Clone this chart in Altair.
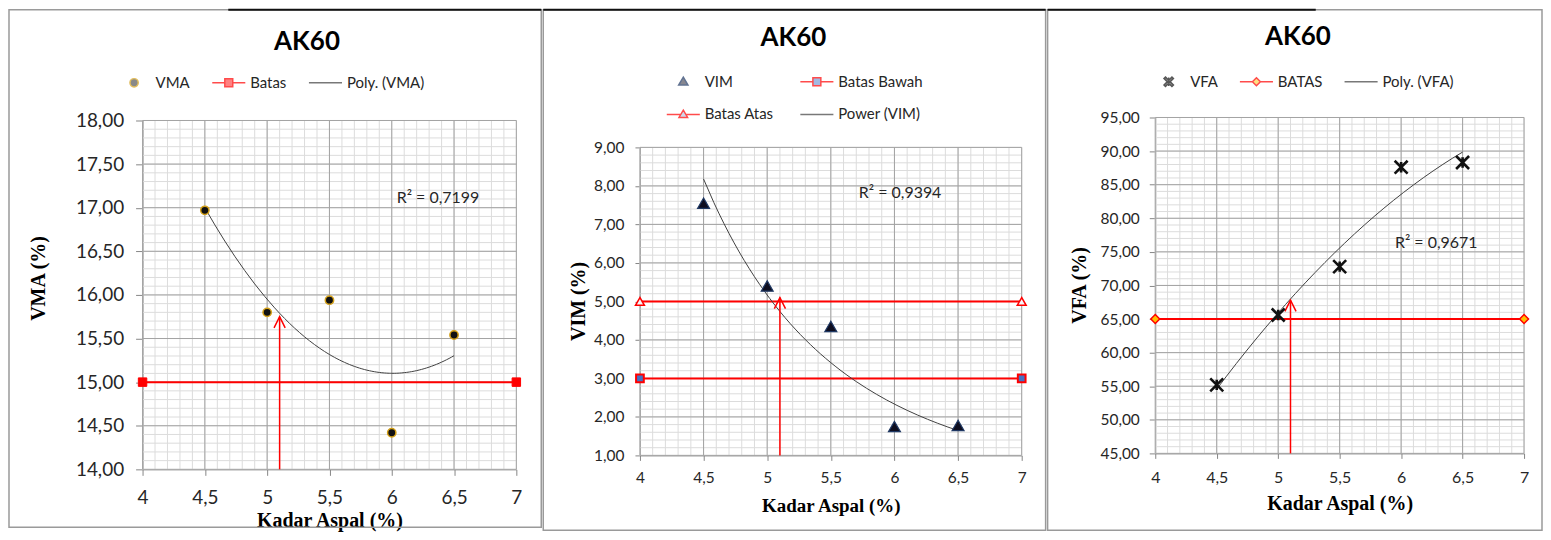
import altair as alt
import pandas as pd

# ------------------------------------------------------------------ data
kadar_aspal = [4.5, 5.0, 5.5, 6.0, 6.5]
vma = [16.97, 15.80, 15.94, 14.42, 15.54]
vim = [7.55, 5.40, 4.35, 1.75, 1.78]
vfa = [55.2, 65.6, 72.8, 87.6, 88.3]

batas_x = [4.0, 7.0]
vma_batas = [15.0, 15.0]
vim_batas_bawah = [3.0, 3.0]
vim_batas_atas = [5.0, 5.0]
vfa_batas = [65.0, 65.0]

arrow_x = [5.1, 5.1]
vma_arrow = [14.0, 15.75]
vim_arrow = [1.0, 5.1]
vfa_arrow = [45.0, 67.8]

r2_text = ["R² = 0,7199", "R² = 0,9394", "R² = 0,9671"]
r2_x = [6.04, 5.72, 5.95]
r2_y = [17.11, 7.81, 76.3]

chart_titles = ["AK60", "AK60", "AK60"]
y_titles = ["VMA (%)", "VIM (%)", "VFA (%)"]
x_title = "Kadar Aspal (%)"
legend_vma = ["VMA", "Batas", "Poly. (VMA)"]
legend_vim = ["VIM", "Batas Bawah", "Batas Atas", "Power (VIM)"]
legend_vfa = ["VFA", "BATAS", "Poly. (VFA)"]

# ------------------------------------------------------------------ style
SANS = "Lato"
SERIF = "Liberation Serif"
TXT = "#262626"
MAJOR = "#a3a3a3"
MINOR = "#dcdcdc"
AXIS = "#868686"
RED = "#ff0000"
TREND = "#404040"
FRAME = "#9a9a9a"

P_LINE = "M-1,0H1"
P_CIRCLE = "M0.25,0A0.25,0.25 0 1,1 -0.25,0A0.25,0.25 0 1,1 0.25,0Z"
P_LSQUARE = "M-1,0H-0.24M0.24,0H1M-0.24,-0.24H0.24V0.24H-0.24Z"
P_LTRI = "M-1,0H-0.16M0.16,0H1M0,-0.26L0.26,0.18H-0.26Z"
P_LDIAM = "M-1,0H-0.24M0.24,0H1M0,-0.24L0.24,0L0,0.24L-0.24,0Z"
P_TRI = "M0,-0.28L0.28,0.2H-0.28Z"
P_X = ("M-0.195,-0.285L0.285,0.195L0.195,0.285L-0.285,-0.195Z"
       "M-0.285,0.195L0.195,-0.285L0.285,-0.195L-0.195,0.285Z"
       "M0,-0.26V0.26")
P_STAR = "M-1,-1L1,1M-1,1L1,-1M0,-0.8V0.8"
P_ARROW = "M-0.5,1L0,0L0.5,1"


def frange(a, b, step):
    n = int(round((b - a) / step))
    return [round(a + i * step, 4) for i in range(n + 1)]


one = pd.DataFrame({"a": [0]})


def panel(c):
    W, H, off = c["w"], c["h"], c["off"]
    GH = H + off  # group height; plot area occupies [off, GH]
    xs = alt.Scale(domain=[4, 7], nice=False, zero=False)
    ys = alt.Scale(domain=c["ydom"], nice=False, zero=False, range=[GH, off])

    def enc(xaxis=None, yaxis=None):
        return dict(x=alt.X("x:Q", scale=xs, axis=xaxis),
                    y=alt.Y("y:Q", scale=ys, axis=yaxis))

    x_main = alt.Axis(
        orient="bottom", values=frange(4, 7, 0.5),
        labelExpr="replace(format(datum.value, '~g'), '.', ',')",
        grid=False,
        domainColor=AXIS, tickColor=AXIS, tickSize=c["xtick"], labelPadding=c["xpad"],
        labelBaseline="middle", labelFlush=False, labelOverlap=False,
        labelFont=SANS, labelFontSize=c["xfs"], labelColor=TXT,
        title=x_title, titleFont=SERIF, titleFontWeight="bold", titleFontSize=c["xtfs"],
        titleColor="black", titleX=W / 2, titleY=c["xty"], titleBaseline="middle",
        titleAlign="center")
    y_main = alt.Axis(
        orient="left", values=c["ymajor"],
        labelExpr="replace(format(datum.value, '.2f'), '.', ',')",
        grid=False,
        domainColor=AXIS, tickColor=AXIS, tickSize=c["ytick"], labelPadding=c["ypad"],
        labelFlush=False, labelOverlap=False,
        labelFont=SANS, labelFontSize=c["yfs"], labelColor=TXT,
        title=c["ytitle"], titleFont=SERIF, titleFontWeight="bold", titleFontSize=c["ytfs"],
        titleColor="black", titleAngle=270, titleX=c["ytx"], titleY=c["yty"],
        titleBaseline="middle", titleAlign="center")

    leg = alt.Legend(orient="none", legendX=c["lx"], legendY=c["ly"],
                     direction="horizontal", columns=c["lcols"], title=None,
                     labelFont=SANS, labelFontSize=15, labelColor=TXT,
                     symbolSize=1100, symbolStrokeWidth=1.5,
                     columnPadding=c["lcp"], rowPadding=c["lrp"], labelOffset=4, padding=0)
    ser = c["series"]
    carrier_df = pd.DataFrame({"x": [4.0] * len(ser), "y": [c["ydom"][0]] * len(ser),
                               "seri": ser})
    carrier = alt.Chart(carrier_df).transform_filter("false").mark_point(filled=True).encode(
        **enc(),
        fill=alt.Fill("seri:N", scale=alt.Scale(domain=ser, range=c["lfill"]), legend=leg),
        stroke=alt.Stroke("seri:N", scale=alt.Scale(domain=ser, range=c["lstroke"]), legend=leg),
        shape=alt.Shape("seri:N", scale=alt.Scale(domain=ser, range=c["lshape"]), legend=leg),
    )

    # grid (minor then major), spanning exactly the plot area
    def xgrid(vals, color):
        return alt.Chart(pd.DataFrame({"x": vals})).mark_rule(color=color, strokeWidth=1).encode(
            x=alt.X("x:Q", scale=xs, axis=None), y=alt.value(off), y2=alt.value(GH))

    def ygrid(vals, color):
        return alt.Chart(pd.DataFrame({"y": vals})).mark_rule(color=color, strokeWidth=1).encode(
            y=alt.Y("y:Q", scale=ys, axis=None), x=alt.value(0), x2=alt.value(W))

    grids = [xgrid(frange(4, 7, 0.1), MINOR), ygrid(c["yminor"], MINOR),
             xgrid(frange(4, 7, 0.5), MAJOR), ygrid(c["ymajor"], MAJOR)]

    fx1, fx2, fy1, fy2 = c["frame"]
    frame = alt.Chart(one).mark_rect(fill="transparent", stroke=FRAME, strokeWidth=1.5).encode(
        x=alt.value(fx1), x2=alt.value(fx2), y=alt.value(fy1), y2=alt.value(fy2))
    topline = alt.Chart(one).mark_rule(color="#111111", strokeWidth=2).encode(
        x=alt.value(c["top"][0]), x2=alt.value(c["top"][1]), y=alt.value(fy1))

    layers = [carrier, frame, topline] + grids

    for b in c["batas"]:
        bdf = pd.DataFrame({"x": batas_x, "y": b["y"]})
        layers.append(alt.Chart(bdf).mark_line(color=RED, strokeWidth=2).encode(**enc()))

    pdf = pd.DataFrame({"x": kadar_aspal, "y": c["vals"]})
    trend = alt.Chart(pdf).transform_regression("x", "y", **c["reg"]).mark_line(
        color=TREND, strokeWidth=1).encode(**enc())
    layers.append(trend)

    adf = pd.DataFrame({"x": arrow_x, "y": c["arrow"]})
    layers.append(alt.Chart(adf).mark_line(color=RED, strokeWidth=1.5).encode(**enc()))
    hdf = pd.DataFrame({"x": arrow_x[-1:], "y": c["arrow"][-1:]})
    layers.append(alt.Chart(hdf).mark_point(shape=P_ARROW, filled=False, stroke=RED,
                                            strokeWidth=1.5, size=500, opacity=1).encode(**enc()))

    for b in c["batas"]:
        bdf = pd.DataFrame({"x": batas_x, "y": b["y"]})
        layers.append(alt.Chart(bdf).mark_point(
            shape=b["shape"], filled=True, fill=b["fill"], stroke=RED,
            strokeWidth=b["sw"], size=b["size"], opacity=1).encode(**enc()))

    layers.append(alt.Chart(pdf).mark_point(opacity=1, **c["pt"]).encode(**enc(x_main, y_main)))

    rdf = pd.DataFrame({"x": [c["r2"][0]], "y": [c["r2"][1]], "t": [c["r2"][2]]})
    layers.append(alt.Chart(rdf).mark_text(align="left", baseline="middle", font=SANS,
                                           fontSize=16, color=TXT).encode(**enc(), text="t:N"))

    layers.append(alt.Chart(one).mark_text(text=c["title"], font=SANS, fontSize=26,
                                           fontWeight="bold", color="black", align="center",
                                           baseline="alphabetic").encode(
        x=alt.value(c["tpos"][0]), y=alt.value(c["tpos"][1])))

    return alt.layer(*layers).resolve_axis(x="independent", y="independent").properties(
        width=W, height=GH)


# all three groups share the same origin (page y = 116); plot areas are offset inside
cfg1 = dict(
    w=375, h=350, off=3, ydom=[14, 18], ymajor=frange(14, 18, 0.5), yminor=frange(14, 18, 0.1),
    vals=vma, reg=dict(method="poly", order=2), arrow=vma_arrow,
    r2=(r2_x[0], r2_y[0], r2_text[0]), title=chart_titles[0], tpos=(165, -68),
    ytitle=y_titles[0], ytx=-104, yty=161, ytfs=20, yfs=19, ytick=7, ypad=12,
    xfs=19, xtick=6, xpad=22, xtfs=20, xty=51,
    frame=(-134, 400, -108, 411), top=(86, 400),
    lx=-26, ly=-52.6, lcols=3, lcp=18, lrp=0, series=legend_vma,
    lfill=["#111111", RED, "transparent"], lstroke=["#d4a017", RED, TREND],
    lshape=[P_CIRCLE, P_LSQUARE, P_LINE],
    batas=[dict(y=vma_batas, shape="square", fill=RED, sw=1, size=72)],
    pt=dict(shape="circle", filled=True, fill="#111111", stroke="#d4a017", strokeWidth=1.5, size=70),
)
cfg2 = dict(
    w=383, h=309, off=30, ydom=[1, 9], ymajor=frange(1, 9, 1), yminor=frange(1, 9, 0.2),
    vals=vim, reg=dict(method="pow"), arrow=vim_arrow,
    r2=(r2_x[1], r2_y[1], r2_text[1]), title=chart_titles[1], tpos=(154, -72),
    ytitle=y_titles[1], ytx=-62, yty=184, ytfs=20, yfs=15.5, ytick=5, ypad=11,
    xfs=15.5, xtick=5, xpad=17, xtfs=19, xty=50,
    frame=(-97, 407, -108, 414), top=(-97, 407),
    lx=26, ly=-53.6, lcols=2, lcp=22, lrp=7, series=legend_vim,
    lfill=["#0d0d1f", "#4472c4", "#9fb3d9", "transparent"],
    lstroke=["#1f3864", RED, RED, TREND],
    lshape=[P_TRI, P_LSQUARE, P_LTRI, P_LINE],
    batas=[dict(y=vim_batas_bawah, shape="square", fill="#4472c4", sw=2, size=60),
           dict(y=vim_batas_atas, shape="triangle-up", fill="#f6f6fa", sw=1.5, size=80)],
    pt=dict(shape="triangle-up", filled=True, fill="#0d0d1f", stroke="#1f3864", strokeWidth=1.2, size=144),
)
cfg3 = dict(
    w=370, h=337, off=0, ydom=[45, 95], ymajor=frange(45, 95, 5), yminor=frange(45, 95, 1),
    vals=vfa, reg=dict(method="poly", order=2), arrow=vfa_arrow,
    r2=(r2_x[2], r2_y[2], r2_text[2]), title=chart_titles[2], tpos=(143, -73),
    ytitle=y_titles[2], ytx=-76, yty=168, ytfs=20, yfs=15.5, ytick=6, ypad=10,
    xfs=16, xtick=5, xpad=19, xtfs=20, xty=50,
    frame=(-108, 388, -108, 414), top=(-108, 161),
    lx=-4, ly=-53.6, lcols=3, lcp=18, lrp=0, series=legend_vfa,
    lfill=["#111111", "#ffc000", "transparent"], lstroke=["#111111", RED, TREND],
    lshape=[P_X, P_LDIAM, P_LINE],
    batas=[dict(y=vfa_batas, shape="diamond", fill="#ffc000", sw=1.5, size=80)],
    pt=dict(shape=P_STAR, filled=False, stroke="#111111", strokeWidth=2.6, size=169),
)

chart = alt.hconcat(panel(cfg1), panel(cfg2), panel(cfg3), spacing=0).resolve_scale(
    fill="independent", stroke="independent", shape="independent").resolve_legend(
    fill="independent", stroke="independent", shape="independent").properties(
    padding=0).configure_view(strokeWidth=0)

chart.save("out.html", embed_options={"renderer": "svg", "actions": False})
